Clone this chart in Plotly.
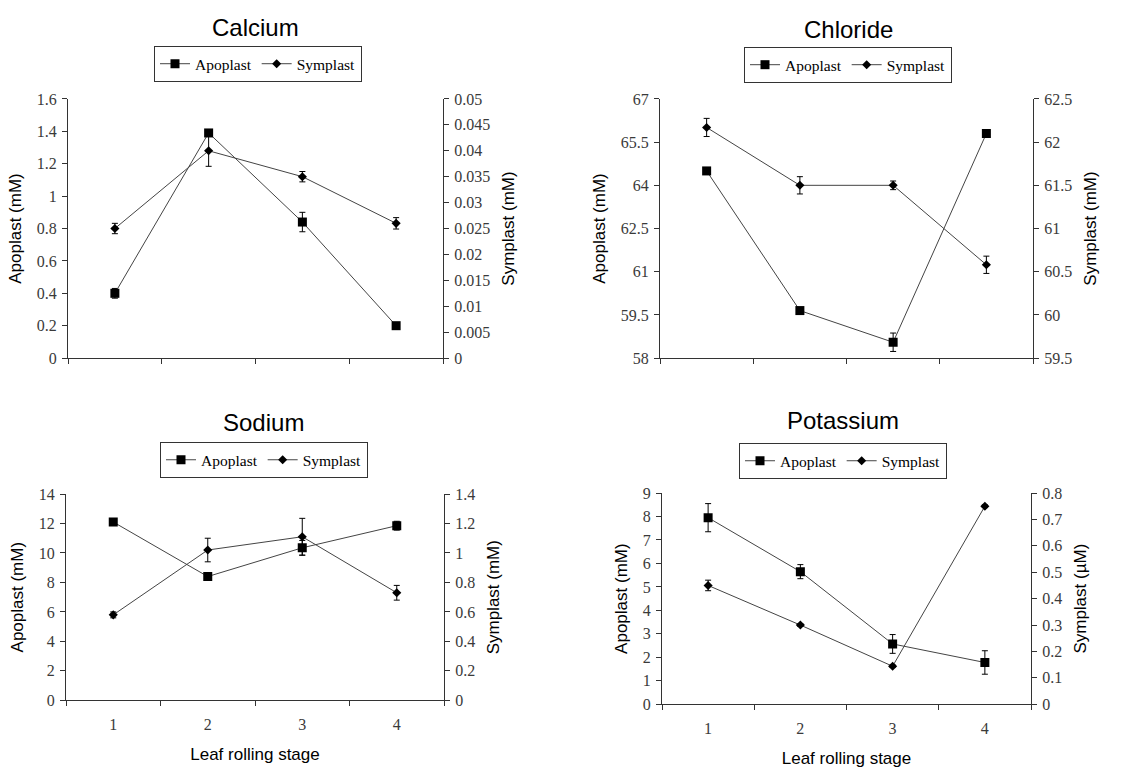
import plotly.graph_objects as go

stages = [1, 2, 3, 4]
stage_labels = ["1", "2", "3", "4"]
series_names = ["Apoplast", "Symplast"]
panel_titles = ["Calcium", "Chloride", "Sodium", "Potassium"]
left_titles = ["Apoplast (mM)", "Apoplast (mM)", "Apoplast (mM)", "Apoplast (mM)"]
right_titles = ["Symplast (mM)", "Symplast (mM)", "Symplast (mM)", "Symplast (µM)"]

ca_apo = [0.40, 1.39, 0.84, 0.20]
ca_apo_err = [0.03, 0.02, 0.06, 0.01]
ca_sym = [0.025, 0.040, 0.035, 0.026]
ca_sym_err = [0.001, 0.003, 0.001, 0.0011]

cl_apo = [64.5, 59.65, 58.55, 65.8]
cl_apo_err = [0.05, 0.05, 0.32, 0.05]
cl_sym = [62.17, 61.5, 61.5, 60.58]
cl_sym_err = [0.105, 0.1, 0.05, 0.1]

na_apo = [12.1, 8.4, 10.35, 11.85]
na_apo_err = [0.15, 0.1, 0.5, 0.3]
na_sym = [0.58, 1.02, 1.11, 0.73]
na_sym_err = [0.02, 0.08, 0.125, 0.05]

k_apo = [7.95, 5.65, 2.57, 1.78]
k_apo_err = [0.6, 0.3, 0.4, 0.5]
k_sym = [0.45, 0.30, 0.144, 0.75]
k_sym_err = [0.02, 0.005, 0.005, 0.005]

# axis ranges / tick steps
left_ranges = [[0, 1.6], [58, 67], [0, 14], [0, 9]]
left_dticks = [0.2, 1.5, 2, 1]
right_ranges = [[0, 0.05], [59.5, 62.5], [0, 1.4], [0, 0.8]]
right_dticks = [0.005, 0.5, 0.2, 0.1]

apo_data = [(ca_apo, ca_apo_err), (cl_apo, cl_apo_err), (na_apo, na_apo_err), (k_apo, k_apo_err)]
sym_data = [(ca_sym, ca_sym_err), (cl_sym, cl_sym_err), (na_sym, na_sym_err), (k_sym, k_sym_err)]

W, H = 1146, 769
# plot-area pixel boxes: (left, right, top, bottom)
boxes = [(68, 443, 93, 358), (660, 1033, 93, 358), (66, 444, 497, 708), (662, 1031, 496, 712)]
title_pos = [(255, 20), (848, 22), (263, 424), (843, 422)]
legend_pos = [(258, 39), (848, 40), (264, 444), (843, 445)]

SERIF = "Liberation Serif, Times New Roman, serif"
SANS = "Liberation Sans, Arial, sans-serif"
AX = "#333333"
TICKC = "#3a3a3a"

fig = go.Figure()
layout = dict(
    width=W, height=H, margin=dict(l=0, r=0, t=0, b=0),
    paper_bgcolor="white", plot_bgcolor="white", showlegend=True,
    annotations=[],
)

for k in range(4):
    xn = "" if k == 0 else str(k + 1)
    yl = "" if k == 0 else str(2 * k + 1)
    yr = str(2 * k + 2)
    lg = "legend" if k == 0 else "legend" + str(k + 1)
    l, r, t, b = boxes[k]
    xdom = [l / W, r / W]
    ydom = [1 - b / H, 1 - t / H]

    apo, apo_e = apo_data[k]
    sym, sym_e = sym_data[k]
    fig.add_trace(go.Scatter(
        x=stages, y=apo, name=series_names[0], mode="lines+markers",
        xaxis="x" + xn, yaxis="y" + yl, legend=lg,
        line=dict(color="#444444", width=1),
        marker=dict(symbol="square", size=9, color="black"),
        error_y=dict(type="data", array=apo_e, color="black", thickness=1, width=3),
    ))
    fig.add_trace(go.Scatter(
        x=stages, y=sym, name=series_names[1], mode="lines+markers",
        xaxis="x" + xn, yaxis="y" + yr, legend=lg,
        line=dict(color="#444444", width=1),
        marker=dict(symbol="diamond", size=7, color="black"),
        error_y=dict(type="data", array=sym_e, color="black", thickness=1, width=3),
    ))

    bottom_row = k >= 2
    layout["xaxis" + xn] = dict(
        domain=xdom, anchor="y" + yl, range=[0.5, 4.5],
        tickmode="array", tickvals=stages,
        ticktext=stage_labels if bottom_row else ["", "", "", ""],
        ticks="", ticklabelstandoff=9, showline=True, linecolor=AX, linewidth=1.2,
        showgrid=False, zeroline=False,
        tickfont=dict(family=SERIF, size=16, color=TICKC),
        minor=dict(tickmode="array", tickvals=[0.5, 1.5, 2.5, 3.5, 4.5],
                   ticks="outside", ticklen=5, tickcolor=AX, tickwidth=1, showgrid=False),
        title=dict(text="Leaf rolling stage" if bottom_row else "",
                   font=dict(family=SANS, size=17, color="black"), standoff=16),
        fixedrange=True,
    )
    layout["yaxis" + yl] = dict(
        domain=ydom, anchor="x" + xn, range=left_ranges[k],
        tick0=left_ranges[k][0], dtick=left_dticks[k],
        ticks="outside", ticklen=5, tickcolor=AX, tickwidth=1, ticklabelstandoff=2,
        showline=True, linecolor=AX, linewidth=1.2, showgrid=False, zeroline=False,
        tickfont=dict(family=SERIF, size=16, color=TICKC),
        title=dict(text=left_titles[k], font=dict(family=SANS, size=17, color="black"), standoff=10),
    )
    layout["yaxis" + yr] = dict(
        domain=ydom, anchor="x" + xn, overlaying="y" + yl, side="right",
        range=right_ranges[k], tick0=right_ranges[k][0], dtick=right_dticks[k],
        ticks="outside", ticklen=5, tickcolor=AX, tickwidth=1, ticklabelstandoff=2,
        showline=True, linecolor=AX, linewidth=1.2, showgrid=False, zeroline=False,
        tickfont=dict(family=SERIF, size=16, color=TICKC),
        title=dict(text=right_titles[k], font=dict(family=SANS, size=17, color="black"), standoff=12),
    )
    lx, ly = legend_pos[k]
    layout[lg] = dict(
        x=lx / W, y=1 - ly / H, xanchor="center", yanchor="top",
        orientation="h", bordercolor="#333333", borderwidth=1, bgcolor="white",
        font=dict(family=SERIF, size=15.5, color="black"),
        itemwidth=30, tracegroupgap=0,
    )
    tx, ty = title_pos[k]
    layout["annotations"].append(dict(
        text=panel_titles[k], x=tx / W, y=1 - ty / H, xref="paper", yref="paper",
        xanchor="center", yanchor="middle", showarrow=False,
        font=dict(family=SANS, size=24, color="black"),
    ))

fig.update_layout(**layout)
fig.write_html("out.html")
